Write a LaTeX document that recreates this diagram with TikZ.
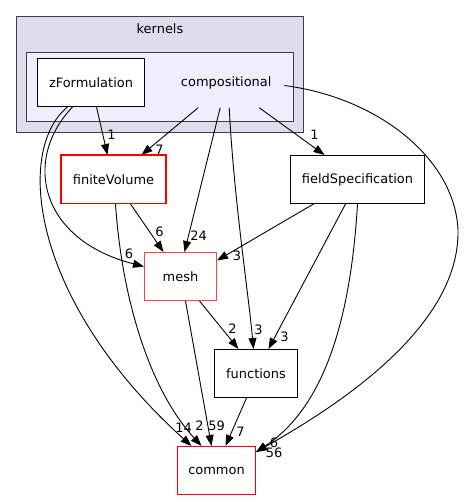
\documentclass[tikz,border=0pt]{standalone}
\usepackage{fontspec}
\setmainfont{DejaVu Sans}
\usetikzlibrary{arrows.meta, positioning, calc}
\definecolor{clusterout}{HTML}{DDDDEE}
\definecolor{clusterin}{HTML}{EEEEFF}
\definecolor{lightred}{HTML}{FF4444}

\begin{document}
\begin{tikzpicture}[%
    x=1bp, y=-1bp,
    >={Triangle[length=11bp,width=8bp]},
    every node/.style={%
      font=\fontsize{13}{15}\selectfont,
      text=black,
      align=center
    },
    dirbox/.style={draw=black,line width=1bp,fill=white,
      minimum height=48bp,inner sep=0pt},
    truncbox/.style={dirbox,draw=red},
    cluster/.style={draw=black!75,line width=1bp},
    dep/.style={->,line width=0.9bp},
    num/.style={inner sep=0pt}
  ]

  \useasboundingbox (0,0) rectangle (464,500);

  % Clusters
  \draw[cluster, fill=clusterout] (16.5,16.5) rectangle (303.5,132.5);
  \draw[cluster, fill=clusterin] (26.5,52.5) rectangle (293.5,121.5);
  \node (kernels) at (160,29) {kernels};

  % Directories
  \node[truncbox, minimum width=78bp] (common) at (216.5,470.5) {common};
  \node[dirbox, minimum width=83bp, above=48bp of common, xshift=39.5bp]
    (functions) {functions};
  \node[truncbox, draw=lightred, minimum width=72bp, above=48bp of functions,
    xshift=-75.5bp] (mesh) {mesh};
  \node[truncbox, minimum width=104bp, above=48bp of mesh,
    xshift=-67bp] (fv) {finiteVolume};
  \node[dirbox, minimum width=134bp, above=48bp of mesh, xshift=177bp]
    (fieldspec) {fieldSpecification};
  \node[dirbox, minimum width=107bp, above=48bp of fv, xshift=-22.5bp]
    (zform) {zFormulation};
  \node[minimum width=116bp, minimum height=50bp, inner sep=0pt,
    right=23bp of zform] (comp) {compositional};

  % Dependencies
  \draw[dep] ([xshift=5.5bp]zform.south) -- ([xshift=-6bp]fv.north)
    node[num, at end, xshift=4bp, yshift=20bp] {1};
  \draw[dep] ([xshift=-18.5bp]zform.south)
    .. controls (22,160) and (40,240) .. ([yshift=10bp]mesh.west)
    node[num, at end, xshift=-15bp, yshift=13bp] {6};
  \draw[dep] ([xshift=-23.5bp]zform.south)
    .. controls (15,150) and (30,300) .. ([xshift=-25bp]common.north)
    node[num, at end, xshift=-8bp, yshift=18bp] {14};

  \draw[dep] ([xshift=-28bp]comp.south) -- ([xshift=28bp]fv.north)
    node[num, at end, xshift=18bp, yshift=5bp] {7};
  \draw[dep] ([xshift=-6bp]comp.south) -- ([xshift=4bp]mesh.north)
    node[num, at end, xshift=14bp, yshift=16bp] {24};
  \draw[dep] ([xshift=3bp]comp.south)
    .. controls (234,200) and (248,290) .. ([xshift=-2.5bp]functions.north)
    node[num, at end, xshift=5bp, yshift=19bp] {3};
  \draw[dep] ([xshift=33bp]comp.south) -- ([xshift=-33bp]fieldspec.north)
    node[num, at end, xshift=-10bp, yshift=20bp] {1};
  \draw[dep] ([yshift=-3bp]comp.east)
    .. controls (380,98) and (455,160) .. (458,230)
    .. controls (460,330) and (330,410) .. ([yshift=-6bp]common.north east)
    node[num, at end, xshift=18bp, yshift=-1bp] {56};

  \draw[dep] ([xshift=17bp]fv.south) -- ([xshift=-17bp]mesh.north)
    node[num, at end, xshift=-4bp, yshift=20bp] {6};
  \draw[dep] ([xshift=2bp]fv.south)
    .. controls (122,300) and (150,390) .. ([xshift=-15bp]common.north)
    node[num, at end, xshift=-2bp, yshift=20bp] {2};

  \draw[dep] ([xshift=-44bp]fieldspec.south) -- ([yshift=16bp]mesh.east)
    node[num, at end, xshift=20bp, yshift=5bp] {3};
  \draw[dep] ([xshift=-12bp]fieldspec.south) -- ([xshift=12.5bp]functions.north)
    node[num, at end, xshift=16bp, yshift=12bp] {3};
  \draw[dep] (fieldspec.south)
    .. controls (350,330) and (320,410) .. ([yshift=-6bp]common.north east)
    node[num, at end, xshift=18bp, yshift=9bp] {6};

  \draw[dep] ([xshift=19bp]mesh.south) -- ([xshift=-17.5bp]functions.north)
    node[num, at end, xshift=-6bp, yshift=20bp] {2};
  \draw[dep] ([xshift=5bp]mesh.south) -- ([xshift=-5bp]common.north)
    node[num, at end, xshift=5bp, yshift=20bp] {59};

  \draw[dep] ([xshift=-9.5bp]functions.south) -- ([xshift=9bp]common.north)
    node[num, at end, xshift=15bp, yshift=14bp] {7};

  % red border of finiteVolume once more, on top
  \draw[red, line width=1bp] (fv.south west) rectangle (fv.north east);

\end{tikzpicture}
\end{document}
